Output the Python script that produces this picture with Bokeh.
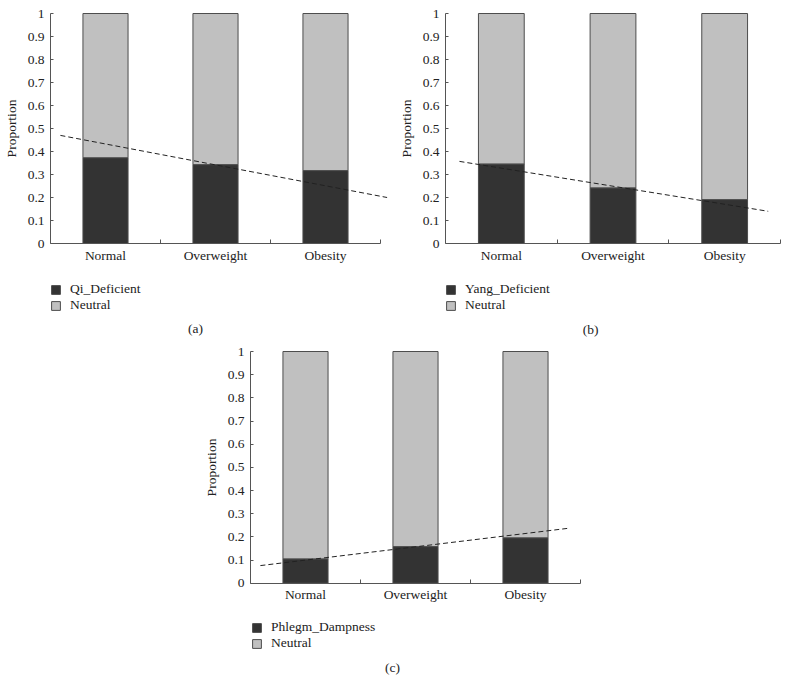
from bokeh.plotting import figure
from bokeh.layouts import column, row
from bokeh.models import (FixedTicker, Range1d, Legend, LegendItem, Label, Spacer,
                          ColumnDataSource)
from bokeh.embed import file_html
from bokeh.resources import INLINE

# ---------------- data ----------------
categories = ["Normal", "Overweight", "Obesity"]

qi_deficient = [0.373, 0.343, 0.317]
qi_neutral = [0.627, 0.657, 0.683]
qi_trend_x = [0.09, 3.06]
qi_trend_y = [0.47, 0.20]

yang_deficient = [0.346, 0.242, 0.191]
yang_neutral = [0.654, 0.758, 0.809]
yang_trend_x = [0.125, 2.89]
yang_trend_y = [0.357, 0.14]

phlegm_dampness = [0.105, 0.158, 0.196]
phlegm_neutral = [0.895, 0.842, 0.804]
phlegm_trend_x = [0.09, 2.89]
phlegm_trend_y = [0.076, 0.237]

y_ticks = [0, 0.1, 0.2, 0.3, 0.4, 0.5, 0.6, 0.7, 0.8, 0.9, 1]
y_tick_labels = ["0", "0.1", "0.2", "0.3", "0.4", "0.5", "0.6", "0.7", "0.8", "0.9", "1"]

FONT = "Liberation Serif"
FS = "13.5px"
DARK = "#333333"
LIGHT = "#c0c0c0"
EDGE = "#4d4d4d"
AXIS = "#555555"
TEXT = "#222222"


def make_panel(series_name, dark_vals, light_vals, tx, ty, caption,
               width, height, ax_left, px_x, ax_top, px_y, legend_loc, cap_pos):
    # layout in pixels -> ranges (the frame covers the whole figure, axes are fixed inside)
    x0 = -ax_left / px_x
    x1 = (width - ax_left) / px_x
    y1 = 1 + ax_top / px_y
    y0 = 1 - (height - ax_top) / px_y
    p = figure(width=width, height=height, output_backend="svg", toolbar_location=None,
               x_range=Range1d(x0, x1), y_range=Range1d(y0, y1),
               min_border=0, min_border_left=0, min_border_right=0,
               min_border_top=0, min_border_bottom=0)
    p.outline_line_color = None
    p.xgrid.visible = False
    p.ygrid.visible = False
    p.background_fill_color = "white"
    p.border_fill_color = "white"

    xs = [i + 0.5 for i in range(len(categories))]
    src = ColumnDataSource(dict(x=xs, dark=dark_vals, light=light_vals,
                                top2=[d + l for d, l in zip(dark_vals, light_vals)]))
    r1 = p.vbar(x="x", bottom=0, top="dark", width=0.41, source=src,
                fill_color=DARK, line_color=EDGE, line_width=1)
    r2 = p.vbar(x="x", bottom="dark", top="top2", width=0.41, source=src,
                fill_color=LIGHT, line_color=EDGE, line_width=1)
    p.line(tx, ty, line_color=TEXT, line_width=1, line_dash="5 3")

    # x axis
    xa = p.xaxis[0]
    xa.fixed_location = 0
    xa.ticker = FixedTicker(ticks=xs, minor_ticks=[1, 2, 3])
    xa.major_label_overrides = {x: c for x, c in zip(xs, categories)}
    xa.major_tick_in = 0
    xa.major_tick_out = 0
    xa.minor_tick_in = 4
    xa.minor_tick_out = 0
    xa.minor_tick_line_color = AXIS
    xa.bounds = (0, 3)
    xa.axis_line_color = AXIS
    xa.major_label_text_font = FONT
    xa.major_label_text_font_size = FS
    xa.major_label_text_color = TEXT
    xa.major_label_standoff = 4

    # y axis
    ya = p.yaxis[0]
    ya.fixed_location = 0
    ya.bounds = (0, 1)
    ya.ticker = FixedTicker(ticks=y_ticks, minor_ticks=[])
    ya.major_label_overrides = {t: l for t, l in zip(y_ticks, y_tick_labels)}
    ya.major_tick_in = 3
    ya.major_tick_out = 0
    ya.major_tick_line_color = AXIS
    ya.axis_line_color = AXIS
    ya.major_label_text_font = FONT
    ya.major_label_text_font_size = FS
    ya.major_label_text_color = TEXT
    ya.major_label_standoff = 6
    ya.axis_label = "Proportion"
    ya.axis_label_text_font = FONT
    ya.axis_label_text_font_size = FS
    ya.axis_label_text_font_style = "normal"
    ya.axis_label_text_color = TEXT
    ya.axis_label_standoff = 6

    legend = Legend(items=[LegendItem(label=series_name, renderers=[r1]),
                           LegendItem(label="Neutral", renderers=[r2])],
                    location=legend_loc, orientation="vertical",
                    padding=0, margin=0, spacing=0,
                    glyph_width=11, glyph_height=11, label_height=16,
                    label_standoff=9, border_line_color=None,
                    background_fill_alpha=0,
                    label_text_font=FONT, label_text_font_size=FS,
                    label_text_color=TEXT)
    p.add_layout(legend, "center")

    cx = (cap_pos[0] - ax_left) / px_x
    cy = 1 - (cap_pos[1] - ax_top) / px_y
    cap = Label(x=cx, y=cy, text=caption, text_align="center",
                text_baseline="middle", text_font=FONT, text_font_size=FS,
                text_color=TEXT)
    p.add_layout(cap)
    return p


pa = make_panel("Qi_Deficient", qi_deficient, qi_neutral, qi_trend_x, qi_trend_y, "(a)",
                width=395, height=340, ax_left=50, px_x=110.0, ax_top=13, px_y=230.0,
                legend_loc=(50, 27), cap_pos=(195, 328))
pb = make_panel("Yang_Deficient", yang_deficient, yang_neutral, yang_trend_x, yang_trend_y,
                "(b)", width=394, height=340, ax_left=50, px_x=335 / 3, ax_top=13,
                px_y=230.0, legend_loc=(50, 27), cap_pos=(195, 329))
pc = make_panel("Phlegm_Dampness", phlegm_dampness, phlegm_neutral, phlegm_trend_x,
                phlegm_trend_y, "(c)", width=400, height=354, ax_left=55, px_x=110.0,
                ax_top=11, px_y=231.7, legend_loc=(56, 43), cap_pos=(197, 327))

layout = column(row(pa, pb), row(Spacer(width=195, height=354), pc))

open("out.html", "w").write(file_html(layout, INLINE))
